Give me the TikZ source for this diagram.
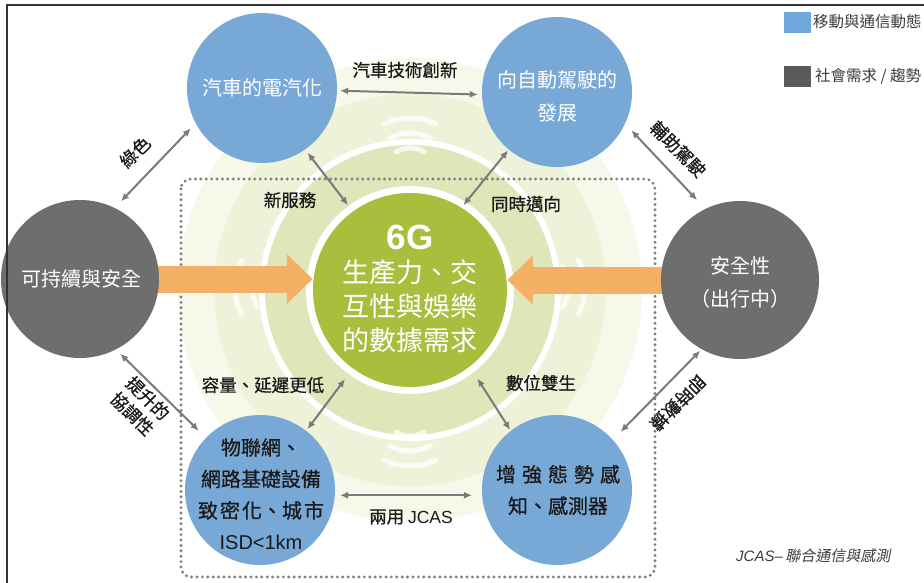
\documentclass[tikz,border=0pt]{standalone}
\usepackage{fontspec}
\setmainfont{Noto Sans CJK TC}
\newfontfamily\latin{Liberation Sans}
\newfontfamily\cjkmed[FakeBold=0.7]{Noto Sans CJK TC}
\newfontfamily\cjkit[FakeSlant=0.2]{Noto Sans CJK TC}
\usetikzlibrary{arrows.meta,calc}
\definecolor{blueC}{HTML}{78A8D6}
\definecolor{grayC}{HTML}{6E6E6E}
\definecolor{coreC}{HTML}{A8BE3C}
\definecolor{orangeC}{HTML}{F4B065}
\definecolor{arrowC}{HTML}{7A7A7A}
\definecolor{dotC}{HTML}{7E7E7E}
\definecolor{ringA}{HTML}{F6F8E9}
\definecolor{ringB}{HTML}{EEF2D8}
\definecolor{ringC}{HTML}{DFE7BA}
\definecolor{txtC}{HTML}{1A1A1A}
\definecolor{legBlue}{HTML}{6FA7DC}
\definecolor{legGray}{HTML}{5A5A5A}
\tikzset{
  bubble/.style={circle, inner sep=0pt, draw=none},
  bluebub/.style={bubble, fill=blueC, minimum size=150pt},
  graybub/.style={bubble, fill=grayC, minimum size=158pt},
  corebub/.style={bubble, fill=coreC, minimum size=194pt},
  wtext/.style={text=white, align=center, inner sep=0pt, font=\fontsize{20}{33}\selectfont},
  dtext/.style={text=txtC, align=center, inner sep=0pt, font=\cjkmed\fontsize{20}{31.5}\selectfont},
  lbl/.style={text=txtC, align=center, inner sep=0pt, font=\cjkmed\fontsize{17.5}{22}\selectfont},
  conn/.style={{Latex[length=8pt,width=7pt]}-{Latex[length=8pt,width=7pt]}, draw=arrowC, line width=2pt},
  bigarrow/.style={draw=orangeC, line width=27pt, -{Triangle[length=26pt,width=48pt]}},
  wave/.style={draw=white, line width=5pt, line cap=round, opacity=0.75},
  dotframe/.style={draw=dotC, line width=3.2pt, dash pattern=on 0pt off 5.4pt, line cap=round, rounded corners=10pt}
}
\begin{document}
\begin{tikzpicture}[x=1pt,y=-1pt]
\useasboundingbox (0,0) rectangle (924,583);
\begin{scope}
\clip (0,0) rectangle (924,583);
\fill[white] (0,0) rectangle (924,583);
% background rings
\coordinate (c) at (410,290);
\fill[ringA] (c) circle (232);
\fill[ringB] (c) circle (196);
\fill[white] (c) circle (151);
\fill[ringC] (c) circle (145);
\fill[white] (c) circle (104);
% waves (angles mirrored because y points down)
\draw[wave] ([shift={(410,176)}]-60:28) arc (-60:-120:28);
\draw[wave] ([shift={(410,176)}]-62:43) arc (-62:-118:43);
\draw[wave] ([shift={(410,176)}]-64:58) arc (-64:-116:58);
\draw[wave] ([shift={(410,408)}]60:28) arc (60:120:28);
\draw[wave] ([shift={(410,408)}]62:43) arc (62:118:43);
\draw[wave] ([shift={(410,408)}]64:58) arc (64:116:58);
\draw[wave] ([shift={(292,287)}]150:40) arc (150:210:40);
\draw[wave] ([shift={(292,287)}]152:57) arc (152:208:57);
\draw[wave] ([shift={(528,287)}]30:40) arc (30:-30:40);
\draw[wave] ([shift={(528,287)}]28:57) arc (28:-28:57);
% dotted frame
\draw[dotframe] (181,179) rectangle (655,577);
% circles
\node[corebub] (core) at (410,290) {};
\node[bluebub] (elec) at (262,88) {};
\node[bluebub] (auto) at (557,92) {};
\node[bluebub] (iot) at (260,490) {};
\node[bluebub] (sense) at (557,490) {};
% orange arrows (behind gray circles)
\draw[bigarrow] (80,279) -- (80,279 -| core.west);
\draw[bigarrow] (740,280) -- (740,280 -| core.east);
\node[graybub] (sust) at (80,279) {};
\node[graybub] (safe) at (740,280) {};
% circle texts
\node[wtext] (t6g) at (410,237) {\fontsize{35}{38}\selectfont\latin\bfseries 6G};
\node[wtext, font=\fontsize{27}{34}\selectfont] (tcore) at (410,306) {生產力、交\\互性與娛樂\\的數據需求};
\node[wtext] (telec) at (262,88) {汽車的電汽化};
\node[wtext] (tauto) at (557,96) {向自動駕駛的\\發展};
\node[wtext] (tsust) at (81,279) {可持續與安全};
\node[wtext] (tsafe) at (740,282) {安全性\\（出行中）};
\node[dtext] (tiot) at (261,494) {物聯網、\\網路基礎設備\\致\hspace{2pt}密\hspace{2pt}化、城\hspace{2pt}市\\{\latin ISD<1km}};
\node[dtext] (tsense) at (558,490) {增\hspace{6pt}強\hspace{6pt}態\hspace{6pt}勢\hspace{6pt}感\\知、感測器};
% connectors
\draw[conn, shorten <=3pt, shorten >=4pt] (elec.-2) -- (auto.182);
\draw[conn, shorten <=9pt, shorten >=7pt] (sust.64) -- (elec.208);
\draw[conn, shorten <=9pt, shorten >=12pt] (auto.335) -- (safe.116);
\draw[conn, shorten <=6pt, shorten >=10pt] (sust.297) -- (iot.136);
\draw[conn, shorten <=2pt, shorten >=11pt] (safe.241) -- (sense.42);
\draw[conn, shorten <=4pt, shorten >=8pt] (elec.305) -- (core.126);
\draw[conn, shorten <=1pt, shorten >=3pt] (auto.230) -- (core.58);
\draw[conn, shorten <=13pt, shorten >=2pt] (core.234) -- (iot.52);
\draw[conn, shorten <=14pt, shorten >=1pt] (core.308) -- (sense.128);
\draw[conn, shorten <=5pt, shorten >=10pt] (iot.-4) -- (sense.184);
% connector labels
\node[lbl] (l1) at (405,70) {汽車技術創新};
\node[lbl, rotate=45] (l2) at (135,152) {綠色};
\node[lbl, rotate=-45] (l3) at (678,149) {輔助駕駛};
\node[lbl, rotate=-45] (l4) at (140,406) {提升的\\協調性};
\node[lbl, rotate=225] (l5) at (678,403) {即時數據};
\node[lbl] (l6) at (290,200) {新服務};
\node[lbl] (l7) at (526,204) {同時邁向};
\node[lbl] (l8) at (263,385) {容量、延遲更低};
\node[lbl] (l9) at (541,383) {數位雙生};
\node[lbl] (l10) at (411,517) {兩用 {\latin JCAS}};
% legend
\node[fill=legBlue, minimum width=27pt, minimum height=21pt, inner sep=0pt] (lgb) at (797,23) {};
\node[fill=legGray, minimum width=27pt, minimum height=21pt, inner sep=0pt] (lgg) at (797,77) {};
\node[anchor=west, inner sep=0pt, text=txtC!85, font=\fontsize{15.5}{18}\selectfont] (lgbt) at (813,22) {移動與通信動態};
\node[anchor=west, inner sep=0pt, text=txtC!85, font=\fontsize{15.5}{18}\selectfont] (lggt) at (815,76) {社會需求 / 趨勢};
% footnote
\node[anchor=west, inner sep=0pt, text=txtC!85, font=\fontsize{15}{18}\selectfont] (foot) at (736,556) {{\latin\itshape JCAS–}\,{\cjkit 聯合通信與感測}};
% frame
\draw[line width=1.6pt, draw=black!80] (7,583) -- (7,5) -- (924,5);
\end{scope}
\end{tikzpicture}
\end{document}
